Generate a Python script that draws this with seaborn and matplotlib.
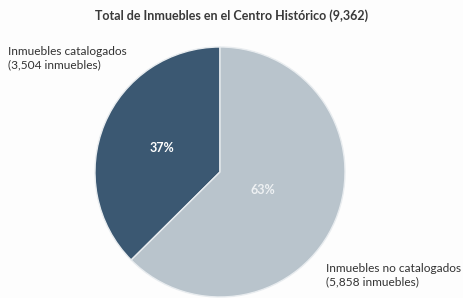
import numpy as np
import matplotlib
matplotlib.use("Agg")
import matplotlib.pyplot as plt
import seaborn as sns

categories = ["Inmuebles catalogados", "Inmuebles no catalogados"]
counts = [3504, 5858]
pct_labels = ["37%", "63%"]
title = "Total de Inmuebles en el Centro Histórico (9,362)"
colors = ["#3b5872", "#b9c4cc"]

sns.set_theme(style="white")
plt.rcParams['font.family'] = ['Lato', 'DejaVu Sans']

fig = plt.figure(figsize=(4.64, 2.98), dpi=100)
fig.patch.set_facecolor("#fdfdfd")
ax = fig.add_axes([0.2047, 0.0034, 0.5388, 0.8389])
wedges, _ = ax.pie(counts, colors=colors, startangle=90, counterclock=True,
                   wedgeprops=dict(edgecolor="#e8ecef", linewidth=1.0), radius=1)
ax.set_xlim(-1, 1)
ax.set_ylim(-1, 1)
ax.set_aspect("auto")
ax.axis("off")

dists = [0.5, 0.37]
tcolors = ["white", "#eef1f3"]
for w, lab, d, tc in zip(wedges, pct_labels, dists, tcolors):
    ang = np.deg2rad((w.theta1 + w.theta2) / 2)
    ax.text(d * np.cos(ang), d * np.sin(ang), lab, ha="center", va="center",
            color=tc, fontsize=9, fontweight="bold")

fig.text(0.5, 0.948, title, ha="center", va="center", fontsize=9, fontweight="bold", color="#3a3a3a")
fig.text(0.017, 0.805, f"{categories[0]}\n({counts[0]:,} inmuebles)", ha="left", va="center",
         fontsize=8.6, color="#333333", linespacing=1.25)
fig.text(0.703, 0.078, f"{categories[1]}\n({counts[1]:,} inmuebles)", ha="left", va="center",
         fontsize=8.6, color="#333333", linespacing=1.25)

fig.savefig("out.png", dpi=100, facecolor=fig.get_facecolor())
